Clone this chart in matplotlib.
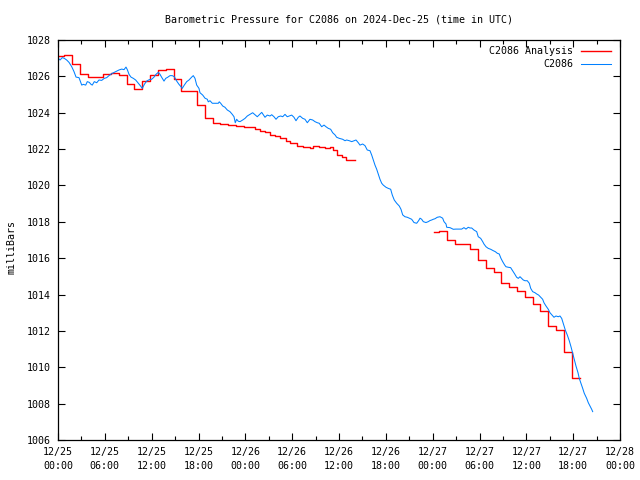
import matplotlib
matplotlib.use('Agg')
import matplotlib.pyplot as plt

# time axis: hours since 2024-12-25 00:00 UTC
obs_hours = [0.04, 0.26, 0.55, 0.81, 1.11, 1.41, 1.76, 2.05, 2.31, 2.69, 3.04, 3.24, 3.55, 3.75, 4.01,
             4.23, 4.39, 4.65, 4.96, 5.25, 5.60, 5.93, 6.24, 6.53, 6.88, 7.21, 7.52, 7.81, 8.16, 8.46,
             8.71, 8.88, 9.10, 9.35, 9.65, 9.95, 10.29, 10.54, 10.80, 11.06, 11.36, 11.70, 12.00, 12.30,
             12.55, 12.85, 13.07, 13.28, 13.58, 13.80, 14.05, 14.35, 14.64, 14.90, 15.21, 15.50, 15.76,
             15.92, 16.18, 16.49, 16.78, 17.13, 17.33, 17.55, 17.77, 18.06, 18.19, 18.54, 18.83, 19.13,
             19.25, 19.47, 19.77, 20.11, 20.54, 20.66, 20.84, 21.10, 21.39, 21.69, 22.03, 22.33, 22.55,
             22.71, 22.89, 23.10, 23.32, 23.66, 23.96, 24.25, 24.60, 24.94, 25.24, 25.53, 25.79, 26.10,
             26.30, 26.52, 26.81, 27.16, 27.38, 27.67, 27.93, 28.22, 28.53, 28.79, 29.08, 29.37, 29.63,
             29.94, 30.23, 30.49, 30.78, 31.00, 31.35, 31.64, 31.94, 32.28, 32.63, 32.92, 33.22, 33.47,
             33.78, 34.08, 34.33, 34.63, 34.93, 35.19, 35.49, 35.70, 36.04, 36.47, 36.77, 36.98, 37.32,
             37.63, 37.92, 38.18, 38.47, 38.69, 39.03, 39.33, 39.62, 39.97, 40.19, 40.39, 40.61, 40.83,
             41.03, 41.25, 41.47, 41.67, 42.02, 42.31, 42.62, 42.83, 43.08, 43.39, 43.72, 43.94, 44.16,
             44.45, 44.75, 45.00, 45.31, 45.61, 45.95, 46.21, 46.38, 46.59, 46.80, 47.14, 47.44, 47.66,
             47.87, 48.08, 48.30, 48.59, 48.94, 49.28, 49.45, 49.71, 49.80, 50.22, 50.64, 50.99, 51.41,
             51.72, 52.01, 52.27, 52.56, 52.78, 53.00, 53.29, 53.64, 53.84, 54.15, 54.41, 54.57, 54.83,
             55.12, 55.43, 55.77, 56.02, 56.28, 56.53, 56.75, 56.97, 57.23, 57.39, 57.69, 57.99, 58.25,
             58.51, 58.76, 58.97, 59.19, 59.40, 59.61, 59.83, 60.12, 60.38, 60.56, 60.81, 61.11, 61.33,
             61.58, 61.84, 62.09, 62.26, 62.52, 62.81, 63.03, 63.29, 63.54, 63.80, 64.09, 64.31, 64.53,
             64.73, 64.99, 65.25, 65.50, 65.72, 65.94, 66.14, 66.36, 66.62, 66.78, 67.00, 67.22, 67.42,
             67.73, 67.94, 68.16, 68.37, 68.50]
obs_mb = [1026.99, 1026.90, 1027.03, 1026.99, 1026.90, 1026.77, 1026.53, 1026.26, 1025.96, 1025.93,
          1025.52, 1025.56, 1025.52, 1025.71, 1025.67, 1025.56, 1025.52, 1025.71, 1025.65, 1025.80,
          1025.78, 1025.89, 1025.93, 1026.04, 1026.15, 1026.22, 1026.29, 1026.35, 1026.40, 1026.37,
          1026.51, 1026.37, 1026.11, 1025.96, 1025.89, 1025.80, 1025.62, 1025.49, 1025.34, 1025.56,
          1025.74, 1025.82, 1025.84, 1025.96, 1026.11, 1026.22, 1026.11, 1025.95, 1025.74, 1025.89,
          1025.95, 1026.04, 1026.04, 1025.98, 1025.74, 1025.56, 1025.43, 1025.34, 1025.52, 1025.71,
          1025.80, 1025.96, 1026.04, 1025.89, 1025.52, 1025.34, 1025.10, 1024.97, 1024.80, 1024.74,
          1024.60, 1024.66, 1024.52, 1024.52, 1024.52, 1024.60, 1024.52, 1024.37, 1024.30, 1024.15,
          1024.06, 1023.91, 1023.78, 1023.45, 1023.64, 1023.53, 1023.51, 1023.60, 1023.69, 1023.82,
          1023.91, 1024.00, 1023.89, 1023.78, 1023.89, 1024.02, 1023.89, 1023.75, 1023.87, 1023.82,
          1023.89, 1023.78, 1023.64, 1023.78, 1023.82, 1023.78, 1023.91, 1023.78, 1023.82, 1023.87,
          1023.75, 1023.56, 1023.75, 1023.82, 1023.69, 1023.64, 1023.45, 1023.64, 1023.60, 1023.51,
          1023.45, 1023.42, 1023.23, 1023.32, 1023.23, 1023.14, 1023.09, 1022.90, 1022.78, 1022.65,
          1022.59, 1022.54, 1022.46, 1022.50, 1022.46, 1022.41, 1022.46, 1022.50, 1022.35, 1022.22,
          1022.28, 1022.19, 1021.95, 1021.91, 1021.67, 1021.40, 1021.12, 1020.89, 1020.63, 1020.34,
          1020.12, 1020.02, 1019.90, 1019.84, 1019.79, 1019.47, 1019.20, 1019.02, 1018.87, 1018.69,
          1018.38, 1018.28, 1018.25, 1018.20, 1018.14, 1017.96, 1017.92, 1018.07, 1018.20, 1018.14,
          1018.01, 1017.96, 1018.01, 1018.07, 1018.10, 1018.14, 1018.17, 1018.25, 1018.28, 1018.20,
          1018.01, 1017.88, 1017.70, 1017.68, 1017.59, 1017.60, 1017.60, 1017.60, 1017.68, 1017.60,
          1017.70, 1017.66, 1017.66, 1017.55, 1017.46, 1017.18, 1017.09, 1016.91, 1016.78, 1016.63,
          1016.54, 1016.49, 1016.41, 1016.36, 1016.27, 1016.23, 1015.99, 1015.81, 1015.62, 1015.53,
          1015.50, 1015.48, 1015.31, 1015.13, 1014.95, 1014.89, 1014.98, 1014.89, 1014.80, 1014.76,
          1014.76, 1014.62, 1014.34, 1014.16, 1014.10, 1014.03, 1013.97, 1013.85, 1013.74, 1013.55,
          1013.37, 1013.19, 1013.00, 1012.87, 1012.75, 1012.82, 1012.78, 1012.82, 1012.69, 1012.42,
          1012.05, 1011.77, 1011.46, 1011.13, 1010.77, 1010.44, 1010.07, 1009.70, 1009.39, 1009.12,
          1008.84, 1008.57, 1008.29, 1008.05, 1007.87, 1007.69, 1007.56]

ana1_hours = [0.0, 0.8, 1.8, 2.8, 3.8, 4.8, 5.8, 6.8, 7.8, 8.8, 9.8, 10.8, 11.8, 12.8, 13.8, 14.8,
              15.8, 16.8, 17.8, 18.8, 19.8, 20.8, 21.8, 22.8, 23.8, 25.2, 25.9, 26.5, 27.2, 27.8,
              28.4, 29.2, 29.7, 30.6, 31.4, 32.3, 32.7, 33.4, 34.2, 34.8, 35.2, 35.7, 36.4, 36.9, 38.1]
ana1_mb = [1027.12, 1027.16, 1026.66, 1026.15, 1025.95, 1025.98, 1026.11, 1026.17, 1026.06, 1025.60,
           1025.30, 1025.74, 1026.09, 1026.33, 1026.39, 1025.84, 1025.20, 1025.20, 1024.43, 1023.72,
           1023.42, 1023.38, 1023.31, 1023.25, 1023.20, 1023.09, 1023.01, 1022.92, 1022.78, 1022.72,
           1022.59, 1022.45, 1022.32, 1022.19, 1022.13, 1022.06, 1022.15, 1022.10, 1022.06, 1022.13,
           1021.95, 1021.67, 1021.55, 1021.40, 1021.40]

ana2_hours = [48.2, 48.8, 49.8, 50.8, 51.8, 52.8, 53.8, 54.8, 55.8, 56.8, 57.8, 58.8, 59.8, 60.8,
              61.8, 62.8, 63.8, 64.8, 65.8, 66.9]
ana2_mb = [1017.42, 1017.48, 1016.98, 1016.80, 1016.80, 1016.49, 1015.88, 1015.44, 1015.24, 1014.63,
           1014.40, 1014.20, 1013.85, 1013.48, 1013.11, 1012.27, 1012.05, 1010.85, 1009.39, 1009.39]

tick_hours = list(range(0, 73, 6))
tick_labels = ['12/25\n00:00', '12/25\n06:00', '12/25\n12:00', '12/25\n18:00',
               '12/26\n00:00', '12/26\n06:00', '12/26\n12:00', '12/26\n18:00',
               '12/27\n00:00', '12/27\n06:00', '12/27\n12:00', '12/27\n18:00', '12/28\n00:00']
y_ticks = list(range(1006, 1029, 2))

font = 'DejaVu Sans Mono'
fs = 7.2
plt.rcParams['font.family'] = font

fig = plt.figure(figsize=(6.4, 4.8), dpi=100)
ax = fig.add_axes([58 / 640, 40 / 480, 562 / 640, 400 / 480])

red, = ax.plot(ana1_hours, ana1_mb, drawstyle='steps-post', color='#ff0000', lw=1.0,
               label='C2086 Analysis')
ax.plot(ana2_hours, ana2_mb, drawstyle='steps-post', color='#ff0000', lw=1.0)
blue, = ax.plot(obs_hours, obs_mb, color='#0080ff', lw=0.75, label='C2086')

ax.set_xlim(0, 72)
ax.set_ylim(1006, 1028)
ax.set_xticks(tick_hours, tick_labels)
ax.set_xticks(range(3, 72, 6), minor=True)
ax.set_yticks(y_ticks, [str(v) for v in y_ticks])
ax.tick_params(which='both', direction='in', top=True, right=True, width=0.8, labelsize=fs)
ax.tick_params(which='major', length=5, pad=5)
ax.tick_params(which='minor', length=3)
for lab in ax.get_xticklabels():
    lab.set_linespacing(1.5)
for s in ax.spines.values():
    s.set_linewidth(0.9)

ax.legend(handles=[red, blue], loc='upper right', frameon=False, markerfirst=False,
          fontsize=fs, handlelength=3.0, handletextpad=0.8, labelspacing=0.3,
          borderaxespad=0.1, bbox_to_anchor=(0.993, 0.997))

fig.text(339 / 640, 1 - 19 / 480, 'Barometric Pressure for C2086 on 2024-Dec-25 (time in UTC)',
         ha='center', va='center', fontsize=fs)
fig.text(12 / 640, 1 - 247 / 480, 'milliBars', rotation=90, ha='center', va='center', fontsize=fs)

fig.savefig('out.png', dpi=100)
